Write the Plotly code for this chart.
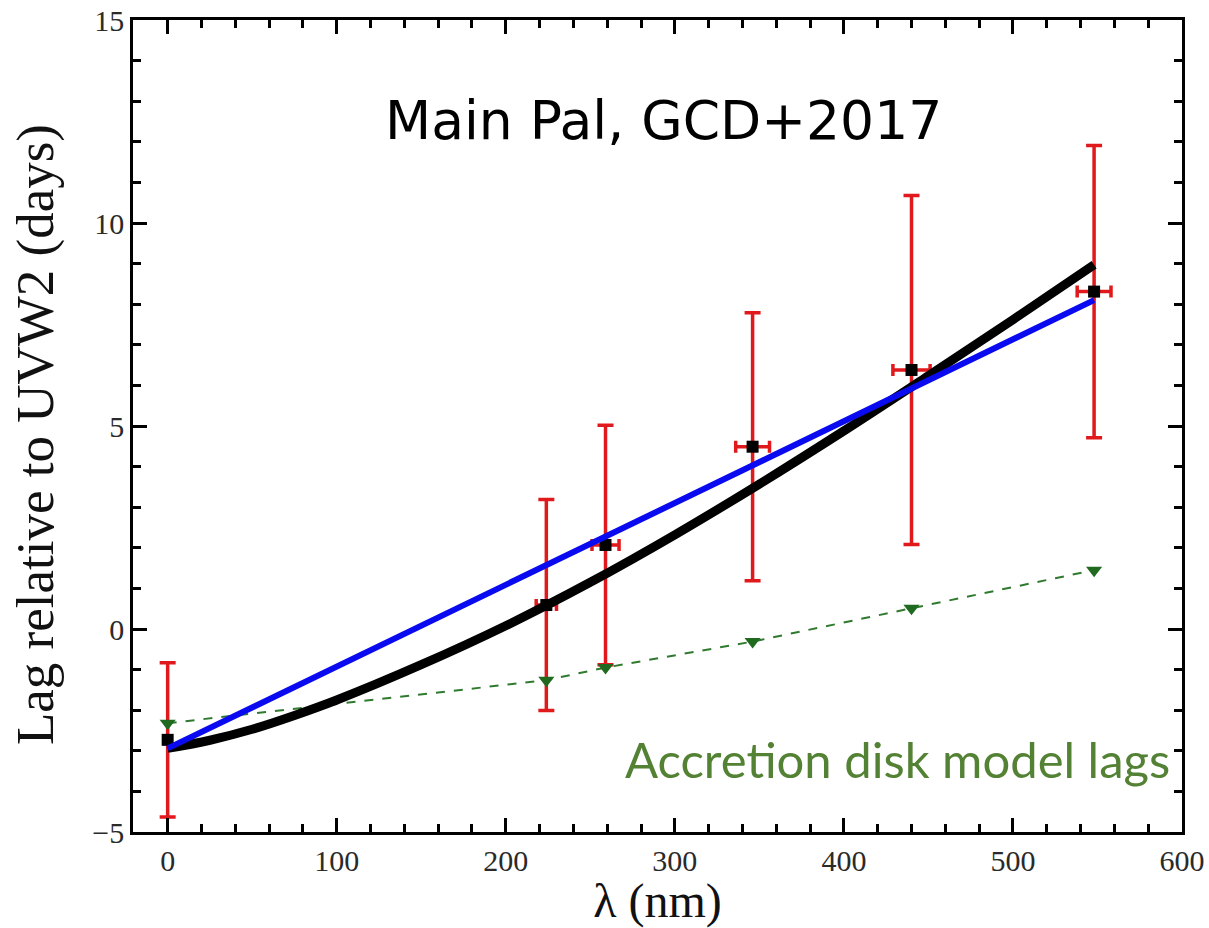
import plotly.graph_objects as go

# Measured inter-band lags relative to UVW2
wavelength_nm = [0, 224, 259, 346, 440, 548]
lag_days = [-2.73, 0.59, 2.07, 4.49, 6.38, 8.31]
lag_err = [1.9, 2.6, 2.95, 3.3, 4.3, 3.6]
band_halfwidth_nm = [0, 6, 8, 10, 11, 10]

# Accretion disk model predictions at the same wavelengths
model_lag_days = [-2.32, -1.26, -0.95, -0.31, 0.51, 1.45]

# Linear fit
linear_fit_x = [0, 548]
linear_fit_y = [-2.94, 8.10]

# Power-law fit curve
power_fit_x = [0, 25, 50, 75, 100, 150, 200, 250, 300, 350, 400, 450, 500, 548]
power_fit_y = [-2.94, -2.74, -2.47, -2.13, -1.75, -0.88, 0.08, 1.15, 2.32,
               3.57, 4.88, 6.24, 7.62, 8.97]

x_ticks = [0, 100, 200, 300, 400, 500, 600]
y_ticks = [-5, 0, 5, 10, 15]

RED = "#e0191c"
GREEN_LINE = "#2f7a2f"
GREEN_TEXT = "#548235"
SERIF = "Liberation Serif, DejaVu Serif, serif"

fig = go.Figure()

fig.add_trace(go.Scatter(
    x=wavelength_nm, y=lag_days, mode="markers",
    marker=dict(symbol="square", size=12, color="black"),
    error_y=dict(type="data", array=lag_err, color=RED, thickness=3.5, width=8),
    error_x=dict(type="data", array=band_halfwidth_nm, color=RED, thickness=3.5, width=6),
    showlegend=False,
))

fig.add_trace(go.Scatter(
    x=wavelength_nm, y=model_lag_days, mode="lines+markers",
    line=dict(color=GREEN_LINE, width=2, dash="dash"),
    marker=dict(symbol="triangle-down", size=14, color="#1f6a1f"),
    showlegend=False,
))

fig.add_trace(go.Scatter(
    x=power_fit_x, y=power_fit_y, mode="lines", line_shape="spline",
    line=dict(color="black", width=9),
    showlegend=False,
))

fig.add_trace(go.Scatter(
    x=linear_fit_x, y=linear_fit_y, mode="lines",
    line=dict(color="#0a0af0", width=6),
    showlegend=False,
))

axis_common = dict(
    showline=True, linecolor="black", linewidth=2.5, mirror="ticks",
    ticks="inside", ticklen=14, tickwidth=2.5, tickcolor="black",
    showgrid=False, zeroline=False, automargin=False,
    tickfont=dict(family=SERIF, size=30, color="#2a2a2a"),
)

fig.update_xaxes(
    range=[-20.5, 600], tickvals=x_ticks,
    minor=dict(dtick=20, ticks="inside", ticklen=8, tickwidth=2.5, tickcolor="black"),
    title=dict(text="λ (nm)", font=dict(family=SERIF, size=48, color="#111111"), standoff=4),
    **axis_common,
)
fig.update_yaxes(
    range=[-5, 15], tickvals=y_ticks,
    minor=dict(dtick=1, ticks="inside", ticklen=8, tickwidth=2.5, tickcolor="black"),
    **axis_common,
)

# y-axis title placed as a rotated annotation
fig.add_annotation(
    text="Lag relative to UVW2 (days)", xref="paper", yref="paper",
    x=-0.0935, y=0.490, xanchor="center", yanchor="middle", textangle=-90,
    showarrow=False, font=dict(family=SERIF, size=53, color="#111111"),
)

fig.add_annotation(
    text="Main Pal, GCD+2017", xref="paper", yref="paper",
    x=0.506, y=0.876, xanchor="center", yanchor="middle", showarrow=False,
    font=dict(family="DejaVu Sans", size=53.5, color="black"),
)
fig.add_annotation(
    text="Accretion disk model lags", xref="paper", yref="paper",
    x=0.729, y=0.09, xanchor="center", yanchor="middle", showarrow=False,
    font=dict(family="Lato", size=49, color=GREEN_TEXT),
)

fig.update_layout(
    width=1209, height=928,
    margin=dict(l=133, r=27, t=20, b=96),
    paper_bgcolor="white", plot_bgcolor="white",
)

fig.write_html("out.html")
